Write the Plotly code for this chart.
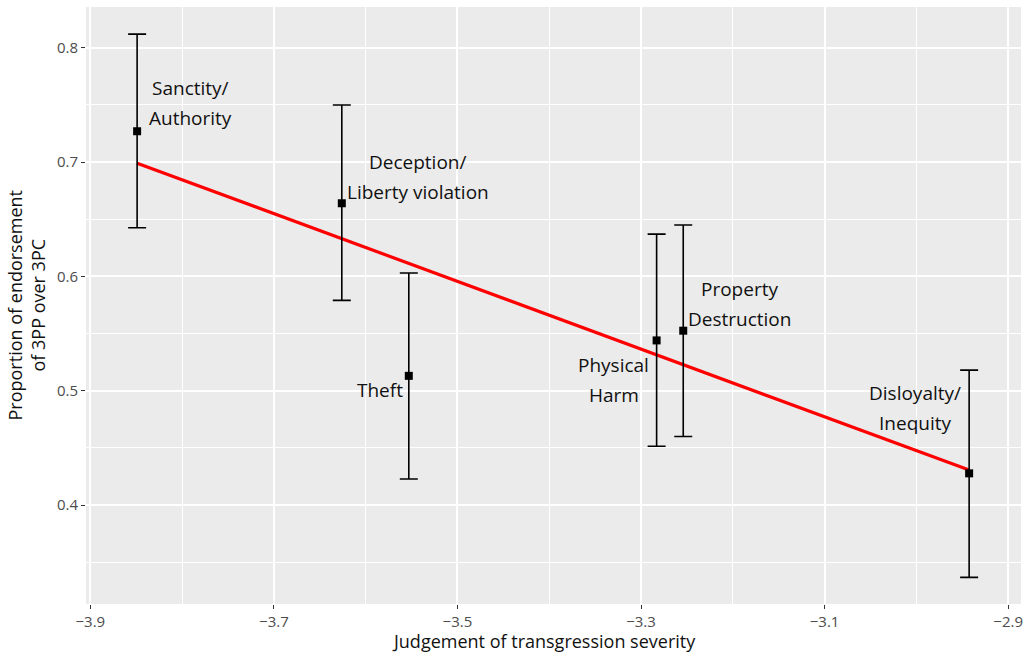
import numpy as np
import plotly.graph_objects as go

# Data
categories = ["Sanctity/\nAuthority", "Deception/\nLiberty violation", "Theft",
              "Physical\nHarm", "Property\nDestruction", "Disloyalty/\nInequity"]
severity = [-3.849, -3.626, -3.553, -3.283, -3.254, -2.9425]
endorse = [0.727, 0.664, 0.513, 0.544, 0.5525, 0.4277]
ci_upper = [0.812, 0.750, 0.603, 0.637, 0.645, 0.518]
ci_lower = [0.6426, 0.579, 0.4227, 0.4514, 0.460, 0.3367]
label_x = [-3.7912, -3.5426, -3.5844, -3.3295, -3.1923, -3.0017]
label_y = [0.7517, 0.6874, 0.5006, 0.5094, 0.5763, 0.4849]
x_ticks = [-3.9, -3.7, -3.5, -3.3, -3.1, -2.9]
y_ticks = [0.4, 0.5, 0.6, 0.7, 0.8]
x_title = "Judgement of transgression severity"
y_title = "Proportion of endorsement<br>of 3PP over 3PC"

sx = np.array(severity)
sy = np.array(endorse)
slope, intercept = np.polyfit(sx, sy, 1)
fit_x = np.array([sx.min(), sx.max()])
fit_y = slope * fit_x + intercept

FONT = "Open Sans"

fig = go.Figure()
fig.add_trace(go.Scatter(
    x=fit_x, y=fit_y, mode="lines",
    line=dict(color="#FF0000", width=3.2), hoverinfo="skip", showlegend=False))
fig.add_trace(go.Scatter(
    x=severity, y=endorse, mode="markers",
    marker=dict(symbol="square", size=8, color="black"),
    error_y=dict(type="data", symmetric=False,
                 array=[u - m for u, m in zip(ci_upper, endorse)],
                 arrayminus=[m - l for m, l in zip(endorse, ci_lower)],
                 color="black", thickness=1.6, width=9),
    showlegend=False))

for lab, lx, ly in zip(categories, label_x, label_y):
    lines = lab.split("\n")
    n = len(lines)
    for i, line in enumerate(lines):
        shift = (n - 1) * 15 - i * 30
        fig.add_annotation(x=lx, y=ly, text=line, showarrow=False,
                           xanchor="center", yanchor="middle", yshift=shift,
                           font=dict(family=FONT, size=19, color="#111111"))

# axis titles
fig.add_annotation(x=0.5, y=0, xref="paper", yref="paper", yshift=-37, xshift=-10,
                   text=x_title, showarrow=False, xanchor="center", yanchor="middle",
                   font=dict(family=FONT, size=18, color="#111111"))
fig.add_annotation(x=0, y=0.5, xref="paper", yref="paper", xshift=-60,
                   text=y_title, showarrow=False, textangle=-90,
                   xanchor="center", yanchor="middle",
                   font=dict(family=FONT, size=18, color="#111111"))

fig.update_layout(
    width=1033, height=652,
    margin=dict(l=86, r=12, t=7, b=48, autoexpand=False),
    paper_bgcolor="white", plot_bgcolor="#EBEBEB",
    font=dict(family=FONT, color="#111111"),
    showlegend=False,
)
fig.update_xaxes(
    range=[-3.9047, -2.886], tickvals=x_ticks,
    ticktext=[f"\u2212{abs(v):.1f}" for v in x_ticks],
    showgrid=True, gridcolor="white", gridwidth=1.6,
    minor=dict(showgrid=True, gridcolor="white", gridwidth=0.8,
               tickvals=[-3.8, -3.6, -3.4, -3.2, -3.0]),
    ticks="outside", ticklen=4, tickwidth=1.4, tickcolor="#333333",
    tickfont=dict(family=FONT, size=15, color="#4D4D4D"),
    zeroline=False, showline=False, automargin=False,
)
fig.update_yaxes(
    range=[0.3134, 0.8357], tickvals=y_ticks,
    ticktext=[f"{v:.1f}" for v in y_ticks],
    showgrid=True, gridcolor="white", gridwidth=1.6,
    minor=dict(showgrid=True, gridcolor="white", gridwidth=0.8,
               tickvals=[0.35, 0.45, 0.55, 0.65, 0.75]),
    ticks="outside", ticklen=4, tickwidth=1.4, tickcolor="#333333",
    tickfont=dict(family=FONT, size=15, color="#4D4D4D"),
    ticklabelstandoff=0,
    zeroline=False, showline=False, automargin=False,
)

fig.write_html("out.html", config={"displayModeBar": False},
               post_script="document.body.style.margin='0px';"
                           "document.body.style.overflow='hidden';")
